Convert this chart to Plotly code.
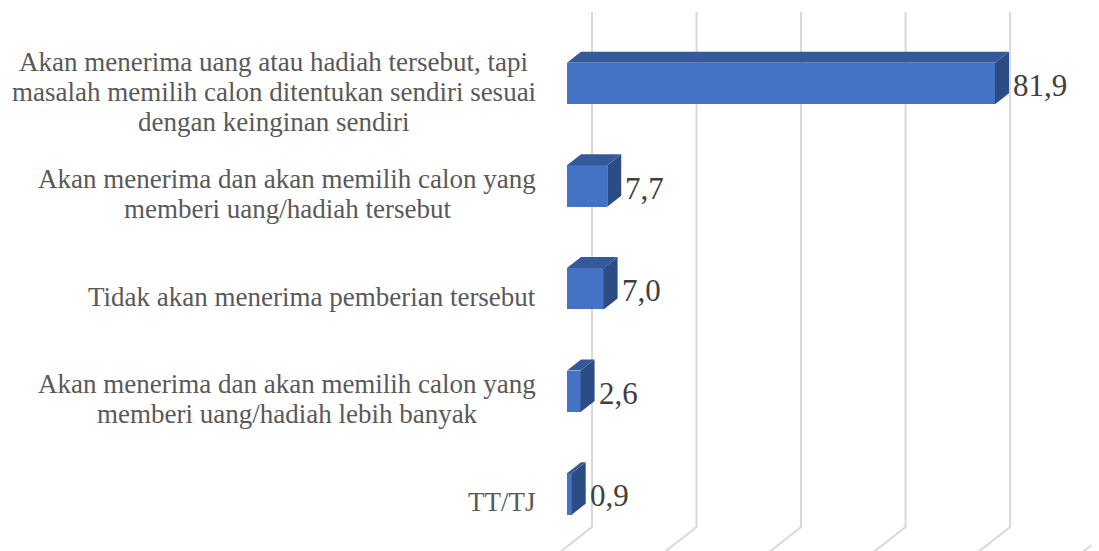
import plotly.graph_objects as go

# ---- data ----
categories = [
    "Akan menerima uang atau hadiah tersebut, tapi<br>masalah memilih calon ditentukan sendiri sesuai<br>dengan keinginan sendiri",
    "Akan menerima dan akan memilih calon yang<br>memberi uang/hadiah tersebut",
    "Tidak akan menerima pemberian tersebut",
    "Akan menerima dan akan memilih calon yang<br>memberi uang/hadiah lebih banyak",
    "TT/TJ",
]
values = [81.9, 7.7, 7.0, 2.6, 0.9]
value_labels = ["81,9", "7,7", "7,0", "2,6", "0,9"]
grid_values = [0, 20, 40, 60, 80, 100]

# ---- geometry / style (page has an 8px body margin) ----
W, H = 1091, 543
X0_PX = 559.0          # pixel of value 0 on front plane
PX_X = 5.226           # pixels per value unit
Y0_PX = 75.5           # pixel of first category center
PX_Y = 102.6           # pixels per category step
BAR_W = 0.404
DEPTH_DX_PX, DEPTH_DY_PX = 14.0, 11.0
WALL_DX_PX = 25.0
GRID_TOP_PX, GRID_BOT_PX = 4.0, 519.0
LINE_PX = 30.0
LABEL_RIGHT_PX = -31.0   # right edge of label text relative to value 0
CAT_SIZE = 27

FRONT = "#4472C4"
TOP = "#36599A"
SIDE = "#2C4C85"
GRID = "#D9D9D9"
FONT = "Liberation Serif, Times New Roman, serif"

# Times-compatible advance widths (per 1000 em) for width estimation
_W = {" ": 250, ",": 250, "/": 278, "A": 722, "T": 611, "J": 389,
      "a": 444, "b": 500, "c": 444, "d": 500, "e": 444, "f": 333, "g": 500,
      "h": 500, "i": 278, "j": 278, "k": 500, "l": 278, "m": 778, "n": 500,
      "o": 500, "p": 500, "q": 500, "r": 333, "s": 389, "t": 278, "u": 500,
      "v": 500, "w": 722, "x": 500, "y": 500, "z": 444}


def text_w(s, size):
    return sum(_W.get(ch, 500) for ch in s) * size / 1000.0


dx = DEPTH_DX_PX / PX_X
dy = DEPTH_DY_PX / PX_Y
xr = [-X0_PX / PX_X, (W - X0_PX) / PX_X]
yr = [(H - Y0_PX) / PX_Y, -Y0_PX / PX_Y]

idx = list(range(len(values)))

fig = go.Figure()

# front faces
fig.add_trace(go.Bar(
    x=values, y=idx, orientation="h", width=BAR_W,
    marker=dict(color=FRONT, line=dict(width=0)),
    hoverinfo="skip", showlegend=False,
))

# top and side faces
for i, v in zip(idx, values):
    t = i - BAR_W / 2
    b = i + BAR_W / 2
    fig.add_trace(go.Scatter(
        x=[0, v, v + dx, dx, 0], y=[t, t, t - dy, t - dy, t],
        fill="toself", fillcolor=TOP, mode="lines", line=dict(width=0, color=TOP),
        hoverinfo="skip", showlegend=False,
    ))
    fig.add_trace(go.Scatter(
        x=[v, v + dx, v + dx, v, v], y=[t, t - dy, b - dy, b, t],
        fill="toself", fillcolor=SIDE, mode="lines", line=dict(width=0, color=SIDE),
        hoverinfo="skip", showlegend=False,
    ))

# gridlines on back wall with floor slant
wall = WALL_DX_PX / PX_X
y_top = (GRID_TOP_PX - Y0_PX) / PX_Y
y_bot = (GRID_BOT_PX - Y0_PX) / PX_Y
ext_px = 60.0
for g in grid_values:
    xw = g + wall
    x_end = xw - ext_px * (DEPTH_DX_PX / DEPTH_DY_PX) / PX_X
    y_end = y_bot + ext_px / PX_Y
    fig.add_shape(type="path",
                  path=f"M {xw} {y_top} L {xw} {y_bot} L {x_end} {y_end}",
                  xref="x", yref="y", line=dict(color=GRID, width=2),
                  layer="below")

# category labels: one annotation per line, lines centred within the block
for i, c in zip(idx, categories):
    lines = c.split("<br>")
    n = len(lines)
    maxw = max(text_w(ln, CAT_SIZE) for ln in lines)
    cx = (LABEL_RIGHT_PX - maxw / 2.0) / PX_X
    for k, ln in enumerate(lines):
        yy = i + (8.0 + (k - (n - 1) / 2) * LINE_PX) / PX_Y
        fig.add_annotation(x=cx, y=yy, text=ln, xref="x", yref="y",
                           xanchor="center", yanchor="middle", align="center",
                           showarrow=False,
                           font=dict(family=FONT, size=CAT_SIZE, color="#595959"))

# value labels
for i, v, s in zip(idx, values, value_labels):
    fig.add_annotation(x=v + dx + 2.0 / PX_X, y=i + 2.0 / PX_Y, text=s,
                       xref="x", yref="y", xanchor="left", yanchor="middle",
                       showarrow=False,
                       font=dict(family=FONT, size=31, color="#404040"))

fig.update_layout(
    width=W, height=H,
    margin=dict(l=0, r=0, t=0, b=0),
    paper_bgcolor="white", plot_bgcolor="white",
    xaxis=dict(range=xr, visible=False, fixedrange=True),
    yaxis=dict(range=yr, visible=False, fixedrange=True),
    bargap=0,
)

fig.write_html("out.html")
